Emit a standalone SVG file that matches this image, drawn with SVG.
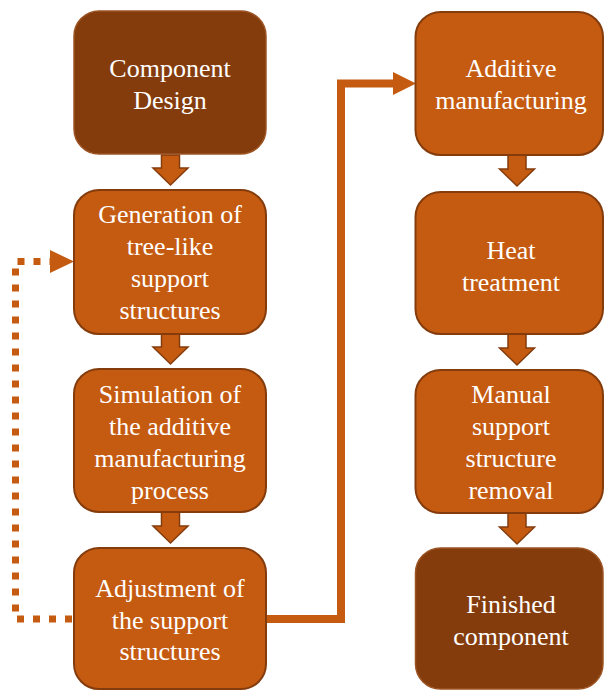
<svg xmlns="http://www.w3.org/2000/svg" width="604" height="690" viewBox="0 0 604 690">
<defs>
<style>
.dark{fill:#843C0C;stroke:#9C5424;stroke-width:1.5}
.org{fill:#C55A11;stroke:#843C0C;stroke-width:2}
.ba{fill:#C55A11;stroke:#843C0C;stroke-width:1.5;stroke-linejoin:miter}
.solid{fill:none;stroke:#C55A11;stroke-width:8}
.dot{fill:none;stroke:#C55A11;stroke-width:7;stroke-dasharray:7 9}
</style>
</defs>
<g id="connectors">
<g id="arrow-left-1"><path class="ba" d="M161.5,155 V168 H153 L170.5,185 L188,168 H179.5 V155 Z"/></g>
<g id="arrow-left-2"><path class="ba" d="M161.5,334 V347 H153 L170.5,364 L188,347 H179.5 V334 Z"/></g>
<g id="arrow-left-3"><path class="ba" d="M161.5,512 V526 H153 L170.5,543 L188,526 H179.5 V512 Z"/></g>
<g id="arrow-right-1"><path class="ba" d="M508,155 V169 H499.5 L517,186 L534.5,169 H526 V155 Z"/></g>
<g id="arrow-right-2"><path class="ba" d="M508,334 V348 H499.5 L517,365 L534.5,348 H526 V334 Z"/></g>
<g id="arrow-right-3"><path class="ba" d="M508,513 V527 H499.5 L517,544 L534.5,527 H526 V513 Z"/></g>
<path class="solid" d="M266,619 H341 V83.5 H395"/>
<path d="M393,72 L416,83.5 L393,95 Z" fill="#C55A11"/>
<path class="dot" d="M72,619 H15.5 V261.5 H52"/>
<path d="M50,250 L74,261.5 L50,273 Z" fill="#C55A11"/>
</g>
<g id="component-design">
<rect class="dark" x="74" y="11" width="192" height="143" rx="25"/>
<text x="170" y="77" font-family="Liberation Serif" font-size="26" fill="#fff" text-anchor="middle">Component</text>
<text x="170" y="108.5" font-family="Liberation Serif" font-size="26" fill="#fff" text-anchor="middle">Design</text>
</g>
<g id="generation">
<rect class="org" x="74" y="190" width="192" height="144" rx="25"/>
<text x="170" y="223" font-family="Liberation Serif" font-size="26" fill="#fff" text-anchor="middle">Generation of</text>
<text x="170" y="255" font-family="Liberation Serif" font-size="26" fill="#fff" text-anchor="middle">tree-like</text>
<text x="170" y="287" font-family="Liberation Serif" font-size="26" fill="#fff" text-anchor="middle">support</text>
<text x="170" y="318.5" font-family="Liberation Serif" font-size="26" fill="#fff" text-anchor="middle">structures</text>
</g>
<g id="simulation">
<rect class="org" x="74" y="369" width="192" height="143" rx="25"/>
<text x="170" y="403" font-family="Liberation Serif" font-size="26" fill="#fff" text-anchor="middle">Simulation of</text>
<text x="170" y="435" font-family="Liberation Serif" font-size="26" fill="#fff" text-anchor="middle">the additive</text>
<text x="170" y="467" font-family="Liberation Serif" font-size="26" fill="#fff" text-anchor="middle">manufacturing</text>
<text x="170" y="498.5" font-family="Liberation Serif" font-size="26" fill="#fff" text-anchor="middle">process</text>
</g>
<g id="adjustment">
<rect class="org" x="74" y="548" width="192" height="141" rx="25"/>
<text x="170" y="597" font-family="Liberation Serif" font-size="26" fill="#fff" text-anchor="middle">Adjustment of</text>
<text x="170" y="628.5" font-family="Liberation Serif" font-size="26" fill="#fff" text-anchor="middle">the support</text>
<text x="170" y="660" font-family="Liberation Serif" font-size="26" fill="#fff" text-anchor="middle">structures</text>
</g>
<g id="additive">
<rect class="org" x="415.5" y="12" width="187.5" height="143" rx="25"/>
<text x="511" y="77" font-family="Liberation Serif" font-size="26" fill="#fff" text-anchor="middle">Additive</text>
<text x="511" y="108.5" font-family="Liberation Serif" font-size="26" fill="#fff" text-anchor="middle">manufacturing</text>
</g>
<g id="heat">
<rect class="org" x="415.5" y="192" width="187.5" height="142" rx="25"/>
<text x="511" y="259" font-family="Liberation Serif" font-size="26" fill="#fff" text-anchor="middle">Heat</text>
<text x="511" y="290.5" font-family="Liberation Serif" font-size="26" fill="#fff" text-anchor="middle">treatment</text>
</g>
<g id="manual">
<rect class="org" x="415.5" y="370" width="187.5" height="143" rx="25"/>
<text x="511" y="403" font-family="Liberation Serif" font-size="26" fill="#fff" text-anchor="middle">Manual</text>
<text x="511" y="435" font-family="Liberation Serif" font-size="26" fill="#fff" text-anchor="middle">support</text>
<text x="511" y="467" font-family="Liberation Serif" font-size="26" fill="#fff" text-anchor="middle">structure</text>
<text x="511" y="498.5" font-family="Liberation Serif" font-size="26" fill="#fff" text-anchor="middle">removal</text>
</g>
<g id="finished">
<rect class="dark" x="415.5" y="548" width="187.5" height="141" rx="25"/>
<text x="511" y="613" font-family="Liberation Serif" font-size="26" fill="#fff" text-anchor="middle">Finished</text>
<text x="511" y="645" font-family="Liberation Serif" font-size="26" fill="#fff" text-anchor="middle">component</text>
</g>
</svg>
